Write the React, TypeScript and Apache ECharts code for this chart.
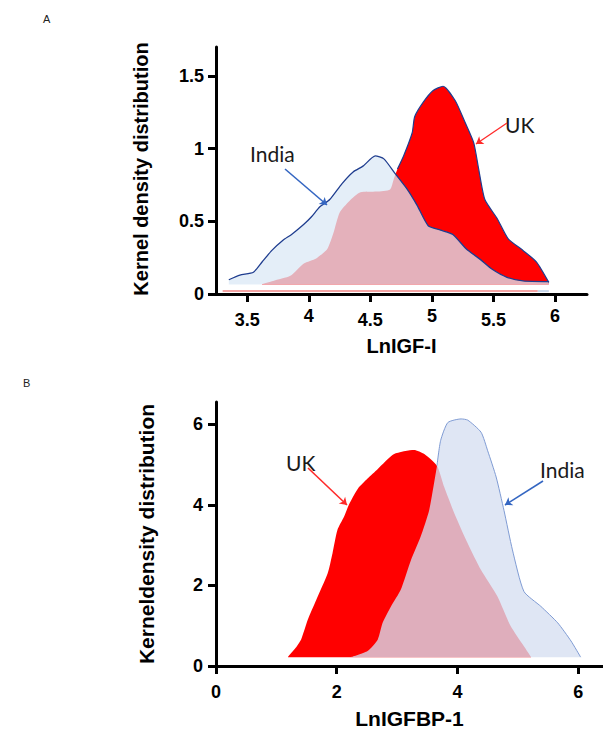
import React, { useEffect, useRef } from "react";
import * as echarts from "echarts";

// Panel A: LnIGF-I kernel density
const indiaA: [number, number][] = [
  [3.35, 0.098], [3.44, 0.13], [3.55, 0.15], [3.62, 0.22], [3.7, 0.3], [3.79, 0.37],
  [3.86, 0.41], [3.96, 0.48], [4.02, 0.53], [4.09, 0.6], [4.17, 0.65], [4.27, 0.76],
  [4.36, 0.84], [4.44, 0.88], [4.54, 0.95], [4.61, 0.93], [4.7, 0.83], [4.8, 0.72],
  [4.88, 0.61], [4.97, 0.47], [5.07, 0.44], [5.17, 0.41], [5.28, 0.31], [5.39, 0.24],
  [5.49, 0.17], [5.61, 0.115], [5.74, 0.09], [5.95, 0.085],
];
const ukA: [number, number][] = [
  [3.62, 0.068], [3.71, 0.09], [3.85, 0.125], [3.96, 0.21], [4.06, 0.245], [4.15, 0.31],
  [4.2, 0.42], [4.25, 0.56], [4.33, 0.64], [4.42, 0.7], [4.55, 0.705], [4.66, 0.72],
  [4.69, 0.79], [4.72, 0.86], [4.77, 0.95], [4.84, 1.11], [4.86, 1.22], [4.93, 1.32],
  [5.01, 1.4], [5.09, 1.43], [5.19, 1.33], [5.27, 1.18], [5.34, 1.04], [5.38, 0.86],
  [5.43, 0.65], [5.53, 0.52], [5.62, 0.38], [5.74, 0.3], [5.85, 0.22], [5.95, 0.08],
];
const baseLinePinkA: [number, number][] = [[3.3, 0.02], [5.86, 0.02]];
const baseLineBlueA: [number, number][] = [[5.86, 0.02], [5.95, 0.02]];
const xTicksA = [3.5, 4, 4.5, 5, 5.5, 6];
const yTicksA = [0, 0.5, 1, 1.5];

// Panel B: LnIGFBP-1 kernel density
const ukB: [number, number][] = [
  [1.19, 0.22], [1.32, 0.45], [1.41, 0.66], [1.52, 1.15], [1.66, 1.64], [1.85, 2.3],
  [1.93, 2.8], [2.01, 3.37], [2.12, 3.7], [2.21, 4.03], [2.35, 4.4], [2.51, 4.65],
  [2.68, 4.89], [2.95, 5.26], [3.28, 5.36], [3.45, 5.26], [3.66, 4.97], [3.78, 4.44],
  [3.95, 3.78], [4.17, 3.04], [4.39, 2.38], [4.66, 1.73], [4.88, 0.99], [5.1, 0.49],
  [5.22, 0.22],
];
const indiaB: [number, number][] = [
  [2.24, 0.22], [2.51, 0.37], [2.68, 0.66], [2.76, 1.07], [2.9, 1.48], [3.06, 1.89],
  [3.23, 2.63], [3.39, 3.21], [3.53, 3.86], [3.61, 4.52], [3.66, 4.97], [3.72, 5.59],
  [3.84, 6.04], [4.06, 6.13], [4.17, 6.1], [4.39, 5.8], [4.5, 5.34], [4.64, 4.69],
  [4.77, 3.86], [4.91, 2.88], [5.1, 1.85], [5.38, 1.48], [5.66, 1.07], [5.88, 0.62],
  [6.04, 0.22],
];
const xTicksB = [0, 2, 4, 6];
const yTicksB = [0, 2, 4, 6];

const AX = "#000";
const FONT = '"Liberation Sans", Arial, sans-serif';
const NOTE_FONT = 'Lato, "Open Sans", sans-serif';

function axisCommon() {
  return {
    axisLine: { show: true, lineStyle: { color: AX, width: 3 } },
    axisTick: { show: true, length: 8, lineStyle: { color: AX, width: 3 } },
    splitLine: { show: false },
  };
}

export default function App() {
  const ref = useRef<HTMLDivElement>(null);
  useEffect(() => {
    if (!ref.current) return;
    const chart = echarts.init(ref.current, undefined, { renderer: "svg" });
    const low = new Set([3.5, 4.5, 5.5]);
    const option: any = {
      animation: false,
      grid: [
        { left: 216, top: 47, width: 371, height: 247 },
        { left: 216, top: 402, width: 387, height: 264 },
      ],
      xAxis: [
        {
          type: "value", gridIndex: 0, min: 3.246, max: 6.26,
          ...axisCommon(),
          axisTick: { show: true, length: 8, lineStyle: { color: AX, width: 3 }, customValues: xTicksA },
          axisLabel: {
            customValues: xTicksA, margin: 13, color: AX,
            fontFamily: FONT, fontWeight: "bold", fontSize: 18,
            formatter: (v: number) => (low.has(v) ? `{lo|${v}}` : `{hi|${v}}`),
            rich: {
              lo: { padding: [4, 0, 0, 0], fontFamily: FONT, fontWeight: "bold", fontSize: 18, color: AX },
              hi: { padding: [0, 0, 0, 0], fontFamily: FONT, fontWeight: "bold", fontSize: 18, color: AX },
            },
          },
          name: "LnIGF-I", nameLocation: "middle", nameGap: 42,
          nameTextStyle: { fontFamily: FONT, fontWeight: "bold", fontSize: 20, color: AX },
        },
        {
          type: "value", gridIndex: 1, min: 0, max: 6.41,
          ...axisCommon(),
          axisTick: { show: true, length: 8, lineStyle: { color: AX, width: 3 }, customValues: xTicksB },
          axisLabel: {
            customValues: xTicksB, margin: 17, color: AX,
            fontFamily: FONT, fontWeight: "bold", fontSize: 18,
          },
          name: "LnIGFBP-1", nameLocation: "middle", nameGap: 42,
          nameTextStyle: { fontFamily: FONT, fontWeight: "bold", fontSize: 21, color: AX },
        },
      ],
      yAxis: [
        {
          type: "value", gridIndex: 0, min: 0, max: 1.7,
          ...axisCommon(),
          axisTick: { show: true, length: 8, lineStyle: { color: AX, width: 3 }, customValues: yTicksA },
          axisLabel: {
            customValues: yTicksA, margin: 12, color: AX,
            fontFamily: FONT, fontWeight: "bold", fontSize: 18,
          },
        },
        {
          type: "value", gridIndex: 1, min: 0, max: 6.55,
          ...axisCommon(),
          axisTick: { show: true, length: 8, lineStyle: { color: AX, width: 3 }, customValues: yTicksB },
          axisLabel: {
            customValues: yTicksB, margin: 13, color: AX,
            fontFamily: FONT, fontWeight: "bold", fontSize: 18,
          },
        },
      ],
      series: [
        // Panel A
        {
          type: "line", xAxisIndex: 0, yAxisIndex: 0, data: ukA, symbol: "none", smooth: 0.2,
          lineStyle: { width: 0 }, areaStyle: { color: "#ff0000", opacity: 1, origin: 0.065 },
        },
        {
          type: "line", xAxisIndex: 0, yAxisIndex: 0, data: ukA.filter((p) => p[0] >= 4.7),
          symbol: "none", smooth: 0.2, lineStyle: { color: "#1f3d8f", width: 1.2 },
        },
        {
          type: "line", xAxisIndex: 0, yAxisIndex: 0, data: indiaA, symbol: "none", smooth: 0.2,
          lineStyle: { color: "#1f3d8f", width: 1.3 },
          areaStyle: { color: "rgba(220,233,246,0.76)", opacity: 1, origin: 0.065 },
        },
        {
          type: "line", xAxisIndex: 0, yAxisIndex: 0, data: baseLinePinkA, symbol: "none",
          lineStyle: { color: "#f4a4a4", width: 2 },
          markLine: {
            silent: true, symbol: ["none", "arrow"], symbolSize: 7, label: { show: false },
            data: [
              [
                { x: 285, y: 169, lineStyle: { color: "#3466c2", width: 1.6, type: "solid" }, itemStyle: { color: "#3466c2" } },
                { x: 327, y: 205 },
              ],
              [
                { x: 507, y: 123, lineStyle: { color: "#ff2a2a", width: 1.3, type: "solid" }, itemStyle: { color: "#ff2a2a" } },
                { x: 476, y: 144 },
              ],
            ],
          },
        },
        {
          type: "line", xAxisIndex: 0, yAxisIndex: 0, data: baseLineBlueA, symbol: "none",
          lineStyle: { color: "#c8d7eb", width: 2 },
        },
        // Panel B
        {
          type: "line", xAxisIndex: 1, yAxisIndex: 1, data: ukB, symbol: "none", smooth: 0.2,
          lineStyle: { width: 0 }, areaStyle: { color: "#ff0000", opacity: 1, origin: 0.22 },
        },
        {
          type: "line", xAxisIndex: 1, yAxisIndex: 1, data: indiaB, symbol: "none", smooth: 0.2,
          lineStyle: { width: 0 },
          areaStyle: { color: "rgba(214,223,241,0.78)", opacity: 1, origin: 0.22 },
        },
        {
          type: "line", xAxisIndex: 1, yAxisIndex: 1, data: indiaB.filter((p) => p[0] >= 3.66),
          symbol: "none", smooth: 0.2, lineStyle: { color: "#7f9bd3", width: 1 },
          markLine: {
            silent: true, symbol: ["none", "arrow"], symbolSize: 7, label: { show: false },
            data: [
              [
                { x: 308, y: 468, lineStyle: { color: "#ff2a2a", width: 1.6, type: "solid" }, itemStyle: { color: "#ff2a2a" } },
                { x: 347, y: 505 },
              ],
              [
                { x: 543, y: 481, lineStyle: { color: "#3466c2", width: 1.6, type: "solid" }, itemStyle: { color: "#3466c2" } },
                { x: 505, y: 505 },
              ],
            ],
          },
        },
      ],
      graphic: [
        { type: "text", x: 43, y: 19, style: { text: "A", font: '11px "Liberation Sans", Arial, sans-serif', fill: "#222", textVerticalAlign: "middle" } },
        { type: "text", x: 23, y: 383, style: { text: "B", font: '11px "Liberation Sans", Arial, sans-serif', fill: "#222", textVerticalAlign: "middle" } },
        {
          type: "text", x: 141, y: 169, rotation: Math.PI / 2,
          style: { text: "Kernel density distribution", font: `bold 20px ${FONT}`, fill: AX, textAlign: "center", textVerticalAlign: "middle" },
        },
        {
          type: "text", x: 146, y: 534, rotation: Math.PI / 2,
          style: { text: "Kerneldensity distribution", font: `bold 21px ${FONT}`, fill: AX, textAlign: "center", textVerticalAlign: "middle" },
        },
        { type: "text", x: 250, y: 153, style: { text: "India", font: `21px ${NOTE_FONT}`, fill: "#1a1a1a", textVerticalAlign: "middle" } },
        { type: "text", x: 505, y: 124, style: { text: "UK", font: `21px ${NOTE_FONT}`, fill: "#1a1a1a", textVerticalAlign: "middle" } },
        { type: "text", x: 286, y: 462, style: { text: "UK", font: `21px ${NOTE_FONT}`, fill: "#1a1a1a", textVerticalAlign: "middle" } },
        { type: "text", x: 540, y: 469, style: { text: "India", font: `21px ${NOTE_FONT}`, fill: "#1a1a1a", textVerticalAlign: "middle" } },
      ],
    };
    chart.setOption(option);
    return () => chart.dispose();
  }, []);
  return (
    <div
      ref={ref}
      style={{ position: "fixed", left: 0, top: 0, width: 603, height: 733, background: "#fff" }}
    />
  );
}
